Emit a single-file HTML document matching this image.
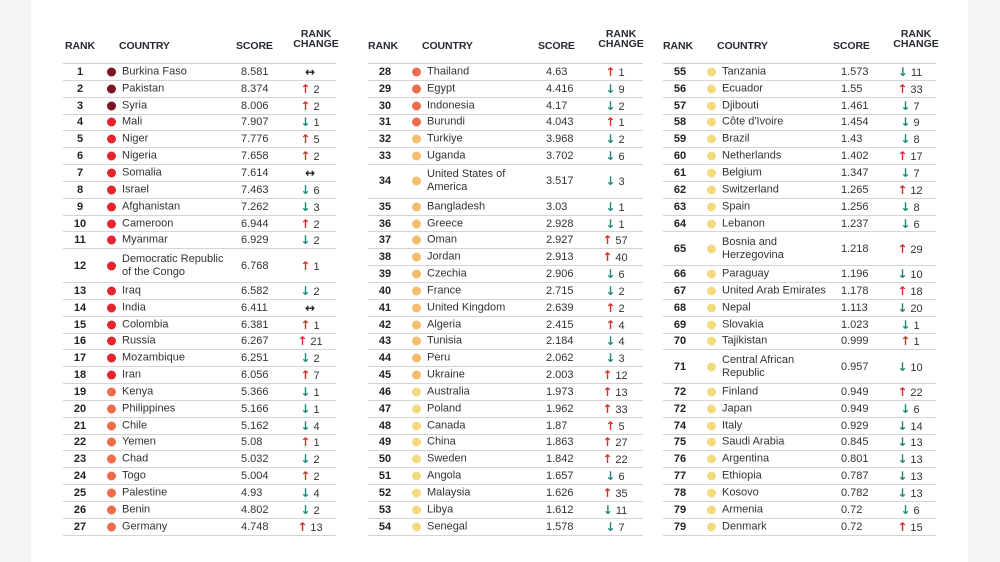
<!DOCTYPE html>
<html><head><meta charset="utf-8">
<style>
*{margin:0;padding:0;box-sizing:border-box}
body{width:1000px;height:562px;background:#fff;position:relative;overflow:hidden;font-family:"Liberation Sans",Arial,sans-serif;color:#333}
.sl{position:absolute;left:0;top:0;width:31px;height:562px;background:#f4f4f4}
.sr{position:absolute;right:0;top:0;width:32px;height:562px;background:#f4f4f4}
.col{position:absolute;top:63px;width:273px;border-top:1.5px solid #d0d0d0}
.h{position:absolute;top:-24px;font-weight:bold;font-size:10.5px;color:#262a33;letter-spacing:-0.1px}
.hc{position:absolute;top:-35px;left:228px;width:50px;text-align:center;font-weight:bold;font-size:10.5px;line-height:10px;color:#262a33}
.r{position:relative;height:16.85px;border-bottom:1.5px solid #d4d4d4;font-size:11px}
.r.d{height:33.7px}
.r>*{position:absolute;top:50%;transform:translateY(-50%);white-space:nowrap}
.k{left:5px;width:24px;text-align:center;font-weight:bold;color:#222}
.o{left:44px;width:9px;height:9px;border-radius:50%}
.n{left:59px;line-height:13px}
.s{left:178px}
.c{left:234px;width:26px;text-align:center}
.u::first-letter{color:#d6322b;font-weight:bold;font-family:"DejaVu Sans",sans-serif;font-size:12px}
.w::first-letter{color:#1f8a78;font-weight:bold;font-family:"DejaVu Sans",sans-serif;font-size:12px}
.e{color:#222;font-family:"DejaVu Sans",sans-serif;font-weight:bold;font-size:12px}
.a1{background:#7c1426}.a2{background:#e3262d}.a3{background:#ec6c4c}.a4{background:#f3bd6c}.a5{background:#f4da7e}
</style></head><body>
<div class="sl"></div><div class="sr"></div>

<div class="col" style="left:63px">
<div class="h" style="left:2px">RANK</div><div class="h" style="left:56px">COUNTRY</div><div class="h" style="left:173px">SCORE</div><div class="hc">RANK<br>CHANGE</div>
<div class="r"><b class="k">1</b><i class="o a1"></i><span class="n">Burkina Faso</span><span class="s">8.581</span><span class="c e">↔</span></div>
<div class="r"><b class="k">2</b><i class="o a1"></i><span class="n">Pakistan</span><span class="s">8.374</span><span class="c u">↑ 2</span></div>
<div class="r"><b class="k">3</b><i class="o a1"></i><span class="n">Syria</span><span class="s">8.006</span><span class="c u">↑ 2</span></div>
<div class="r"><b class="k">4</b><i class="o a2"></i><span class="n">Mali</span><span class="s">7.907</span><span class="c w">↓ 1</span></div>
<div class="r"><b class="k">5</b><i class="o a2"></i><span class="n">Niger</span><span class="s">7.776</span><span class="c u">↑ 5</span></div>
<div class="r"><b class="k">6</b><i class="o a2"></i><span class="n">Nigeria</span><span class="s">7.658</span><span class="c u">↑ 2</span></div>
<div class="r"><b class="k">7</b><i class="o a2"></i><span class="n">Somalia</span><span class="s">7.614</span><span class="c e">↔</span></div>
<div class="r"><b class="k">8</b><i class="o a2"></i><span class="n">Israel</span><span class="s">7.463</span><span class="c w">↓ 6</span></div>
<div class="r"><b class="k">9</b><i class="o a2"></i><span class="n">Afghanistan</span><span class="s">7.262</span><span class="c w">↓ 3</span></div>
<div class="r"><b class="k">10</b><i class="o a2"></i><span class="n">Cameroon</span><span class="s">6.944</span><span class="c u">↑ 2</span></div>
<div class="r"><b class="k">11</b><i class="o a2"></i><span class="n">Myanmar</span><span class="s">6.929</span><span class="c w">↓ 2</span></div>
<div class="r d"><b class="k">12</b><i class="o a2"></i><span class="n">Democratic Republic<br>of the Congo</span><span class="s">6.768</span><span class="c u">↑ 1</span></div>
<div class="r"><b class="k">13</b><i class="o a2"></i><span class="n">Iraq</span><span class="s">6.582</span><span class="c w">↓ 2</span></div>
<div class="r"><b class="k">14</b><i class="o a2"></i><span class="n">India</span><span class="s">6.411</span><span class="c e">↔</span></div>
<div class="r"><b class="k">15</b><i class="o a2"></i><span class="n">Colombia</span><span class="s">6.381</span><span class="c u">↑ 1</span></div>
<div class="r"><b class="k">16</b><i class="o a2"></i><span class="n">Russia</span><span class="s">6.267</span><span class="c u">↑ 21</span></div>
<div class="r"><b class="k">17</b><i class="o a2"></i><span class="n">Mozambique</span><span class="s">6.251</span><span class="c w">↓ 2</span></div>
<div class="r"><b class="k">18</b><i class="o a2"></i><span class="n">Iran</span><span class="s">6.056</span><span class="c u">↑ 7</span></div>
<div class="r"><b class="k">19</b><i class="o a3"></i><span class="n">Kenya</span><span class="s">5.366</span><span class="c w">↓ 1</span></div>
<div class="r"><b class="k">20</b><i class="o a3"></i><span class="n">Philippines</span><span class="s">5.166</span><span class="c w">↓ 1</span></div>
<div class="r"><b class="k">21</b><i class="o a3"></i><span class="n">Chile</span><span class="s">5.162</span><span class="c w">↓ 4</span></div>
<div class="r"><b class="k">22</b><i class="o a3"></i><span class="n">Yemen</span><span class="s">5.08</span><span class="c u">↑ 1</span></div>
<div class="r"><b class="k">23</b><i class="o a3"></i><span class="n">Chad</span><span class="s">5.032</span><span class="c w">↓ 2</span></div>
<div class="r"><b class="k">24</b><i class="o a3"></i><span class="n">Togo</span><span class="s">5.004</span><span class="c u">↑ 2</span></div>
<div class="r"><b class="k">25</b><i class="o a3"></i><span class="n">Palestine</span><span class="s">4.93</span><span class="c w">↓ 4</span></div>
<div class="r"><b class="k">26</b><i class="o a3"></i><span class="n">Benin</span><span class="s">4.802</span><span class="c w">↓ 2</span></div>
<div class="r"><b class="k">27</b><i class="o a3"></i><span class="n">Germany</span><span class="s">4.748</span><span class="c u">↑ 13</span></div>
</div>

<div class="col" style="left:368px;width:275px">
<div class="h" style="left:0px">RANK</div><div class="h" style="left:54px">COUNTRY</div><div class="h" style="left:170px">SCORE</div><div class="hc">RANK<br>CHANGE</div>
<div class="r"><b class="k">28</b><i class="o a3"></i><span class="n">Thailand</span><span class="s">4.63</span><span class="c u">↑ 1</span></div>
<div class="r"><b class="k">29</b><i class="o a3"></i><span class="n">Egypt</span><span class="s">4.416</span><span class="c w">↓ 9</span></div>
<div class="r"><b class="k">30</b><i class="o a3"></i><span class="n">Indonesia</span><span class="s">4.17</span><span class="c w">↓ 2</span></div>
<div class="r"><b class="k">31</b><i class="o a3"></i><span class="n">Burundi</span><span class="s">4.043</span><span class="c u">↑ 1</span></div>
<div class="r"><b class="k">32</b><i class="o a4"></i><span class="n">Turkiye</span><span class="s">3.968</span><span class="c w">↓ 2</span></div>
<div class="r"><b class="k">33</b><i class="o a4"></i><span class="n">Uganda</span><span class="s">3.702</span><span class="c w">↓ 6</span></div>
<div class="r d"><b class="k">34</b><i class="o a4"></i><span class="n">United States of<br>America</span><span class="s">3.517</span><span class="c w">↓ 3</span></div>
<div class="r"><b class="k">35</b><i class="o a4"></i><span class="n">Bangladesh</span><span class="s">3.03</span><span class="c w">↓ 1</span></div>
<div class="r"><b class="k">36</b><i class="o a4"></i><span class="n">Greece</span><span class="s">2.928</span><span class="c w">↓ 1</span></div>
<div class="r"><b class="k">37</b><i class="o a4"></i><span class="n">Oman</span><span class="s">2.927</span><span class="c u">↑ 57</span></div>
<div class="r"><b class="k">38</b><i class="o a4"></i><span class="n">Jordan</span><span class="s">2.913</span><span class="c u">↑ 40</span></div>
<div class="r"><b class="k">39</b><i class="o a4"></i><span class="n">Czechia</span><span class="s">2.906</span><span class="c w">↓ 6</span></div>
<div class="r"><b class="k">40</b><i class="o a4"></i><span class="n">France</span><span class="s">2.715</span><span class="c w">↓ 2</span></div>
<div class="r"><b class="k">41</b><i class="o a4"></i><span class="n">United Kingdom</span><span class="s">2.639</span><span class="c u">↑ 2</span></div>
<div class="r"><b class="k">42</b><i class="o a4"></i><span class="n">Algeria</span><span class="s">2.415</span><span class="c u">↑ 4</span></div>
<div class="r"><b class="k">43</b><i class="o a4"></i><span class="n">Tunisia</span><span class="s">2.184</span><span class="c w">↓ 4</span></div>
<div class="r"><b class="k">44</b><i class="o a4"></i><span class="n">Peru</span><span class="s">2.062</span><span class="c w">↓ 3</span></div>
<div class="r"><b class="k">45</b><i class="o a4"></i><span class="n">Ukraine</span><span class="s">2.003</span><span class="c u">↑ 12</span></div>
<div class="r"><b class="k">46</b><i class="o a5"></i><span class="n">Australia</span><span class="s">1.973</span><span class="c u">↑ 13</span></div>
<div class="r"><b class="k">47</b><i class="o a5"></i><span class="n">Poland</span><span class="s">1.962</span><span class="c u">↑ 33</span></div>
<div class="r"><b class="k">48</b><i class="o a5"></i><span class="n">Canada</span><span class="s">1.87</span><span class="c u">↑ 5</span></div>
<div class="r"><b class="k">49</b><i class="o a5"></i><span class="n">China</span><span class="s">1.863</span><span class="c u">↑ 27</span></div>
<div class="r"><b class="k">50</b><i class="o a5"></i><span class="n">Sweden</span><span class="s">1.842</span><span class="c u">↑ 22</span></div>
<div class="r"><b class="k">51</b><i class="o a5"></i><span class="n">Angola</span><span class="s">1.657</span><span class="c w">↓ 6</span></div>
<div class="r"><b class="k">52</b><i class="o a5"></i><span class="n">Malaysia</span><span class="s">1.626</span><span class="c u">↑ 35</span></div>
<div class="r"><b class="k">53</b><i class="o a5"></i><span class="n">Libya</span><span class="s">1.612</span><span class="c w">↓ 11</span></div>
<div class="r"><b class="k">54</b><i class="o a5"></i><span class="n">Senegal</span><span class="s">1.578</span><span class="c w">↓ 7</span></div>
</div>

<div class="col" style="left:663px">
<div class="h" style="left:0px">RANK</div><div class="h" style="left:54px">COUNTRY</div><div class="h" style="left:170px">SCORE</div><div class="hc">RANK<br>CHANGE</div>
<div class="r"><b class="k">55</b><i class="o a5"></i><span class="n">Tanzania</span><span class="s">1.573</span><span class="c w">↓ 11</span></div>
<div class="r"><b class="k">56</b><i class="o a5"></i><span class="n">Ecuador</span><span class="s">1.55</span><span class="c u">↑ 33</span></div>
<div class="r"><b class="k">57</b><i class="o a5"></i><span class="n">Djibouti</span><span class="s">1.461</span><span class="c w">↓ 7</span></div>
<div class="r"><b class="k">58</b><i class="o a5"></i><span class="n">Côte d'Ivoire</span><span class="s">1.454</span><span class="c w">↓ 9</span></div>
<div class="r"><b class="k">59</b><i class="o a5"></i><span class="n">Brazil</span><span class="s">1.43</span><span class="c w">↓ 8</span></div>
<div class="r"><b class="k">60</b><i class="o a5"></i><span class="n">Netherlands</span><span class="s">1.402</span><span class="c u">↑ 17</span></div>
<div class="r"><b class="k">61</b><i class="o a5"></i><span class="n">Belgium</span><span class="s">1.347</span><span class="c w">↓ 7</span></div>
<div class="r"><b class="k">62</b><i class="o a5"></i><span class="n">Switzerland</span><span class="s">1.265</span><span class="c u">↑ 12</span></div>
<div class="r"><b class="k">63</b><i class="o a5"></i><span class="n">Spain</span><span class="s">1.256</span><span class="c w">↓ 8</span></div>
<div class="r"><b class="k">64</b><i class="o a5"></i><span class="n">Lebanon</span><span class="s">1.237</span><span class="c w">↓ 6</span></div>
<div class="r d"><b class="k">65</b><i class="o a5"></i><span class="n">Bosnia and<br>Herzegovina</span><span class="s">1.218</span><span class="c u">↑ 29</span></div>
<div class="r"><b class="k">66</b><i class="o a5"></i><span class="n">Paraguay</span><span class="s">1.196</span><span class="c w">↓ 10</span></div>
<div class="r"><b class="k">67</b><i class="o a5"></i><span class="n">United Arab Emirates</span><span class="s">1.178</span><span class="c u">↑ 18</span></div>
<div class="r"><b class="k">68</b><i class="o a5"></i><span class="n">Nepal</span><span class="s">1.113</span><span class="c w">↓ 20</span></div>
<div class="r"><b class="k">69</b><i class="o a5"></i><span class="n">Slovakia</span><span class="s">1.023</span><span class="c w">↓ 1</span></div>
<div class="r"><b class="k">70</b><i class="o a5"></i><span class="n">Tajikistan</span><span class="s">0.999</span><span class="c u">↑ 1</span></div>
<div class="r d"><b class="k">71</b><i class="o a5"></i><span class="n">Central African<br>Republic</span><span class="s">0.957</span><span class="c w">↓ 10</span></div>
<div class="r"><b class="k">72</b><i class="o a5"></i><span class="n">Finland</span><span class="s">0.949</span><span class="c u">↑ 22</span></div>
<div class="r"><b class="k">72</b><i class="o a5"></i><span class="n">Japan</span><span class="s">0.949</span><span class="c w">↓ 6</span></div>
<div class="r"><b class="k">74</b><i class="o a5"></i><span class="n">Italy</span><span class="s">0.929</span><span class="c w">↓ 14</span></div>
<div class="r"><b class="k">75</b><i class="o a5"></i><span class="n">Saudi Arabia</span><span class="s">0.845</span><span class="c w">↓ 13</span></div>
<div class="r"><b class="k">76</b><i class="o a5"></i><span class="n">Argentina</span><span class="s">0.801</span><span class="c w">↓ 13</span></div>
<div class="r"><b class="k">77</b><i class="o a5"></i><span class="n">Ethiopia</span><span class="s">0.787</span><span class="c w">↓ 13</span></div>
<div class="r"><b class="k">78</b><i class="o a5"></i><span class="n">Kosovo</span><span class="s">0.782</span><span class="c w">↓ 13</span></div>
<div class="r"><b class="k">79</b><i class="o a5"></i><span class="n">Armenia</span><span class="s">0.72</span><span class="c w">↓ 6</span></div>
<div class="r"><b class="k">79</b><i class="o a5"></i><span class="n">Denmark</span><span class="s">0.72</span><span class="c u">↑ 15</span></div>
</div>
</body></html>
